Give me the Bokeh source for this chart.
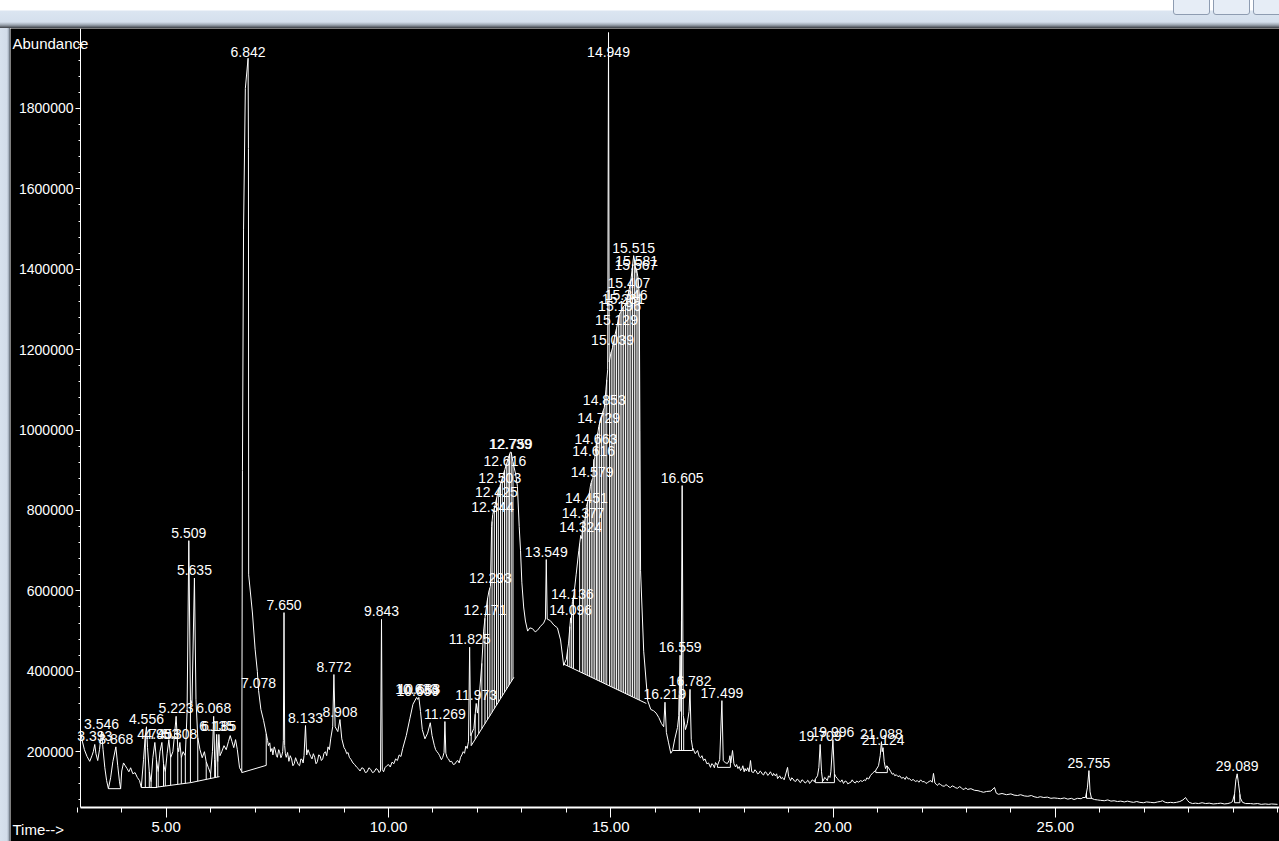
import numpy as np
from bokeh.plotting import figure
from bokeh.models import FixedTicker, NumeralTickFormatter, Label, Div, Range1d
from bokeh.layouts import column, row
from bokeh.embed import file_html
from bokeh.resources import INLINE
from bokeh.core.properties import value

FONT = "Liberation Sans"
FSIZE = "14px"

# ---------------- data ----------------
# total ion chromatogram: (retention time [min], abundance [thousands])
trace_points = [
    (3.073, 248), (3.11, 228), (3.16, 205), (3.22, 188), (3.28, 176), (3.33, 190), (3.36, 200), (3.393, 218),
    (3.42, 195), (3.46, 178), (3.50, 205), (3.546, 250), (3.58, 205), (3.62, 160), (3.66, 128), (3.70, 108),
    (3.75, 135), (3.80, 175), (3.868, 212), (3.91, 165), (3.95, 125), (3.975, 108), (4.00, 152), (4.04, 172),
    (4.08, 165), (4.12, 158), (4.16, 150), (4.20, 160), (4.25, 145), (4.30, 148), (4.35, 136), (4.40, 128),
    (4.44, 111), (4.49, 180), (4.53, 240), (4.556, 262), (4.58, 210), (4.62, 150), (4.66, 125), (4.70, 185),
    (4.745, 223), (4.78, 180), (4.82, 150), (4.86, 200), (4.903, 223), (4.94, 170), (4.98, 150), (5.02, 195),
    (5.06, 230), (5.10, 185), (5.15, 200), (5.19, 245), (5.223, 288), (5.26, 210), (5.28, 200), (5.308, 223),
    (5.34, 185), (5.38, 200), (5.43, 190), (5.47, 300), (5.509, 725), (5.545, 330), (5.58, 320), (5.635, 632),
    (5.67, 330), (5.71, 235), (5.76, 205), (5.81, 185), (5.86, 200), (5.90, 175), (5.95, 160), (6.00, 145),
    (6.04, 200), (6.068, 288), (6.09, 180), (6.11, 160), (6.135, 243), (6.16, 175), (6.185, 243), (6.21, 190),
    (6.25, 200), (6.30, 215), (6.35, 205), (6.40, 225), (6.44, 240), (6.48, 225), (6.52, 210), (6.56, 230),
    (6.60, 205), (6.65, 160), (6.70, 150), (6.715, 900), (6.74, 1500), (6.78, 1850), (6.842, 1925), (6.85, 1700),
    (6.855, 640), (6.94, 545), (7.00, 455), (7.05, 400), (7.078, 352), (7.13, 305), (7.19, 278), (7.25, 245),
    (7.28, 228), (7.30, 215), (7.33, 222), (7.35, 200), (7.38, 208), (7.40, 192), (7.43, 212), (7.45, 205),
    (7.48, 190), (7.50, 186), (7.53, 205), (7.55, 200), (7.58, 185), (7.60, 190), (7.62, 200), (7.635, 228),
    (7.650, 546), (7.665, 215), (7.68, 195), (7.70, 186), (7.73, 198), (7.76, 176), (7.79, 190), (7.82, 182),
    (7.85, 165), (7.88, 170), (7.91, 185), (7.94, 176), (7.97, 168), (8.00, 165), (8.03, 182), (8.06, 180),
    (8.08, 172), (8.10, 190), (8.133, 265), (8.16, 192), (8.19, 205), (8.22, 196), (8.25, 188), (8.28, 182),
    (8.31, 195), (8.34, 186), (8.37, 170), (8.40, 175), (8.43, 192), (8.46, 190), (8.49, 178), (8.52, 182),
    (8.55, 196), (8.58, 200), (8.61, 190), (8.64, 212), (8.67, 205), (8.70, 232), (8.745, 262), (8.772, 392),
    (8.80, 262), (8.86, 250), (8.908, 280), (8.95, 232), (9.00, 210), (9.03, 205), (9.06, 195), (9.09, 198),
    (9.12, 186), (9.16, 180), (9.20, 172), (9.24, 168), (9.28, 162), (9.32, 158), (9.36, 152), (9.40, 160),
    (9.44, 158), (9.48, 148), (9.52, 150), (9.56, 160), (9.60, 156), (9.64, 148), (9.68, 150), (9.72, 158),
    (9.76, 155), (9.79, 148), (9.82, 152), (9.843, 529), (9.86, 156), (9.89, 150), (9.92, 160), (9.96, 165),
    (10.00, 168), (10.04, 162), (10.08, 174), (10.12, 170), (10.16, 182), (10.20, 178), (10.24, 192), (10.28, 188),
    (10.32, 208), (10.40, 240), (10.48, 282), (10.55, 318), (10.633, 335), (10.659, 330), (10.683, 335), (10.72, 300),
    (10.76, 255), (10.82, 232), (10.88, 246), (10.94, 272), (10.98, 240), (11.03, 216), (11.06, 205), (11.09, 200),
    (11.12, 196), (11.15, 190), (11.19, 180), (11.22, 186), (11.25, 198), (11.269, 275), (11.29, 196), (11.32, 185),
    (11.35, 182), (11.38, 175), (11.42, 176), (11.46, 168), (11.50, 170), (11.53, 176), (11.56, 178), (11.59, 172),
    (11.62, 186), (11.65, 192), (11.68, 200), (11.71, 196), (11.74, 214), (11.77, 208), (11.80, 226), (11.825, 460),
    (11.85, 240), (11.92, 258), (11.973, 320), (12.00, 296), (12.05, 350), (12.10, 420), (12.14, 500), (12.171, 533),
    (12.22, 575), (12.26, 600), (12.293, 611), (12.32, 760), (12.344, 790), (12.39, 810), (12.425, 827), (12.46, 845),
    (12.503, 860), (12.56, 880), (12.616, 902), (12.68, 925), (12.739, 945), (12.759, 945), (12.80, 920), (12.86, 890),
    (12.90, 860), (12.94, 760), (12.97, 700), (13.00, 620), (13.04, 560), (13.08, 525), (13.13, 500), (13.18, 508),
    (13.24, 506), (13.30, 498), (13.35, 502), (13.42, 512), (13.49, 520), (13.53, 530), (13.549, 678), (13.57, 530),
    (13.64, 526), (13.72, 515), (13.80, 508), (13.87, 478), (13.94, 415), (14.00, 430), (14.05, 470), (14.096, 533),
    (14.11, 520), (14.136, 573), (14.17, 590), (14.22, 640), (14.28, 700), (14.324, 738), (14.35, 730), (14.377, 775),
    (14.41, 770), (14.451, 810), (14.50, 830), (14.54, 860), (14.579, 877), (14.60, 880), (14.616, 927), (14.64, 930),
    (14.663, 957), (14.70, 985), (14.729, 1009), (14.78, 1030), (14.82, 1045), (14.853, 1056), (14.89, 1100), (14.93, 1150),
    (14.949, 1989), (14.965, 1170), (15.00, 1190), (15.039, 1205), (15.08, 1230), (15.129, 1253), (15.16, 1270), (15.196, 1288),
    (15.24, 1298), (15.281, 1307), (15.31, 1310), (15.346, 1317), (15.38, 1330), (15.407, 1347), (15.45, 1370), (15.48, 1400),
    (15.515, 1434), (15.545, 1415), (15.567, 1392), (15.581, 1400), (15.61, 1380), (15.64, 1340), (15.655, 1000), (15.67, 650),
    (15.74, 450), (15.83, 327), (15.90, 305), (15.96, 302), (16.02, 296), (16.08, 285), (16.14, 270), (16.19, 262),
    (16.219, 323), (16.25, 248), (16.30, 222), (16.35, 196), (16.39, 203), (16.44, 232), (16.50, 260), (16.53, 290),
    (16.559, 440), (16.58, 300), (16.605, 862), (16.63, 290), (16.68, 255), (16.72, 270), (16.76, 300), (16.782, 355),
    (16.81, 230), (16.839, 210), (16.90, 195), (16.952, 203), (16.99, 188), (17.02, 185), (17.05, 190), (17.087, 178),
    (17.12, 182), (17.16, 170), (17.20, 172), (17.243, 161), (17.27, 170), (17.30, 168), (17.33, 160), (17.356, 173),
    (17.40, 166), (17.45, 180), (17.499, 327), (17.53, 178), (17.58, 172), (17.626, 171), (17.66, 178), (17.68, 190),
    (17.70, 172), (17.738, 203), (17.77, 170), (17.806, 162), (17.83, 168), (17.86, 158), (17.89, 163), (17.918, 153),
    (17.95, 158), (17.97, 165), (18.00, 150), (18.02, 158), (18.05, 152), (18.08, 160), (18.11, 150), (18.143, 178),
    (18.17, 150), (18.211, 148), (18.24, 155), (18.27, 152), (18.30, 145), (18.33, 146), (18.36, 152), (18.38, 150),
    (18.41, 144), (18.436, 142), (18.47, 150), (18.50, 148), (18.53, 141), (18.56, 144), (18.59, 150), (18.61, 146),
    (18.64, 140), (18.661, 146), (18.70, 140), (18.73, 145), (18.751, 133), (18.78, 137), (18.80, 140), (18.83, 133),
    (18.86, 136), (18.90, 130), (18.93, 142), (18.976, 161), (19.00, 138), (19.02, 134), (19.043, 128), (19.07, 135),
    (19.10, 132), (19.13, 127), (19.16, 126), (19.19, 132), (19.22, 130), (19.25, 124), (19.268, 123), (19.30, 130),
    (19.33, 128), (19.37, 122), (19.40, 124), (19.43, 129), (19.45, 127), (19.47, 121), (19.493, 123), (19.53, 130),
    (19.56, 128), (19.58, 125), (19.606, 133), (19.65, 140), (19.68, 160), (19.709, 218), (19.74, 150), (19.76, 132),
    (19.783, 128), (19.81, 136), (19.84, 133), (19.87, 128), (19.897, 140), (19.93, 136), (19.95, 150), (19.996, 230),
    (20.03, 145), (20.06, 138), (20.099, 133), (20.13, 128), (20.17, 125), (20.20, 130), (20.234, 121), (20.27, 127),
    (20.30, 126), (20.33, 120), (20.36, 122), (20.40, 124), (20.43, 130), (20.459, 125), (20.50, 122), (20.53, 127),
    (20.57, 124), (20.617, 128), (20.66, 126), (20.70, 130), (20.73, 128), (20.76, 135), (20.80, 132), (20.842, 141),
    (20.90, 148), (20.955, 153), (21.022, 165), (21.06, 190), (21.088, 225), (21.105, 200), (21.124, 210), (21.15, 175),
    (21.179, 158), (21.21, 165), (21.247, 160), (21.30, 150), (21.33, 144), (21.359, 146), (21.39, 140), (21.42, 143),
    (21.46, 138), (21.50, 140), (21.54, 134), (21.584, 136), (21.62, 131), (21.65, 138), (21.69, 132), (21.72, 133),
    (21.76, 128), (21.80, 131), (21.85, 126), (21.898, 128), (21.93, 124), (21.97, 130), (22.01, 125), (22.05, 126),
    (22.09, 121), (22.123, 123), (22.16, 126), (22.20, 128), (22.23, 124), (22.258, 146), (22.29, 122), (22.32, 119),
    (22.348, 116), (22.38, 121), (22.42, 118), (22.46, 115), (22.50, 114), (22.54, 118), (22.57, 116), (22.61, 112),
    (22.64, 111), (22.68, 115), (22.72, 113), (22.76, 110), (22.80, 109), (22.84, 113), (22.88, 111), (22.92, 106),
    (22.95, 107), (22.99, 110), (23.023, 106), (23.10, 108), (23.18, 104), (23.26, 103), (23.32, 101), (23.383, 99),
    (23.45, 101), (23.55, 102), (23.63, 111), (23.67, 97), (23.72, 94), (23.80, 96), (23.90, 93), (24.00, 95),
    (24.07, 92), (24.148, 91), (24.22, 93), (24.30, 90), (24.38, 89), (24.46, 91), (24.52, 88), (24.598, 86),
    (24.66, 88), (24.74, 86), (24.82, 87), (24.90, 84), (24.97, 85), (25.048, 84), (25.12, 83), (25.20, 85),
    (25.28, 82), (25.36, 84), (25.42, 81), (25.497, 84), (25.58, 83), (25.62, 86), (25.677, 86), (25.72, 110),
    (25.755, 153), (25.78, 100), (25.812, 84), (25.88, 81), (25.95, 80), (26.015, 79), (26.10, 78), (26.18, 80),
    (26.25, 77), (26.32, 78), (26.397, 76), (26.47, 77), (26.55, 75), (26.62, 77), (26.70, 75), (26.757, 74),
    (26.83, 76), (26.90, 74), (26.98, 73), (27.05, 75), (27.139, 74), (27.22, 73), (27.30, 75), (27.36, 76),
    (27.409, 78), (27.47, 74), (27.53, 73), (27.589, 74), (27.66, 73), (27.72, 74), (27.80, 76), (27.87, 80),
    (27.927, 86), (27.97, 79), (28.01, 74), (28.084, 71), (28.15, 72), (28.22, 71), (28.30, 73), (28.38, 71),
    (28.46, 72), (28.55, 70), (28.646, 71), (28.72, 72), (28.80, 70), (28.88, 71), (28.94, 73), (28.984, 76),
    (29.03, 95), (29.06, 130), (29.089, 145), (29.12, 120), (29.16, 85), (29.209, 74), (29.28, 71), (29.389, 71),
    (29.46, 70), (29.55, 71), (29.63, 69), (29.72, 70), (29.80, 69), (29.86, 70), (29.997, 69),
]

# labelled peaks: retention-time label and apex abundance (thousands)
peak_label = [
    "3.393", "3.546", "3.868", "4.556", "4.745", "4.903", "5.223", "5.308", "5.509", "5.635",
    "6.068", "6.135", "6.185", "6.842", "7.078", "7.650", "8.133", "8.772", "8.908", "9.843",
    "10.633", "10.659", "10.683", "11.269", "11.825", "11.973", "12.171", "12.293", "12.344", "12.425",
    "12.503", "12.616", "12.739", "12.759", "13.549", "14.096", "14.136", "14.324", "14.377", "14.451",
    "14.579", "14.616", "14.663", "14.729", "14.853", "14.949", "15.039", "15.129", "15.196", "15.281",
    "15.346", "15.407", "15.515", "15.567", "15.581", "16.219", "16.559", "16.605", "16.782", "17.499",
    "19.709", "19.996", "21.088", "21.124", "25.755", "29.089",
]
peak_apex_k = [
    218, 250, 212, 262, 223, 223, 288, 223, 725, 632,
    288, 243, 243, 1925, 352, 546, 265, 392, 280, 529,
    335, 330, 335, 275, 460, 320, 533, 611, 790, 827,
    860, 902, 945, 945, 678, 533, 573, 738, 775, 810,
    877, 927, 957, 1009, 1056, 1989, 1205, 1253, 1288, 1307,
    1317, 1347, 1434, 1392, 1400, 323, 440, 862, 355, 327,
    218, 230, 225, 210, 153, 145,
]

# integration baselines (start time, start abundance k, end time, end abundance k)
base_t0 = [3.70, 4.44, 4.80, 5.55, 6.70, 11.86, 13.94, 16.39, 17.40, 19.60, 20.96, 25.70, 29.03]
base_v0_k = [108, 111, 112, 123, 148, 215, 418, 203, 161, 123, 148, 84, 73]
base_t1 = [3.975, 4.80, 5.55, 6.20, 7.25, 12.82, 15.80, 16.84, 17.69, 20.03, 21.22, 25.82, 29.15]
base_v1_k = [108, 111, 123, 138, 166, 385, 320, 203, 161, 123, 148, 84, 73]

# peak-boundary drop lines (times)
drop_time = [
    3.70, 3.975, 4.44, 4.53, 4.62, 4.66, 4.78, 4.82, 4.94, 4.98, 5.10, 5.26, 5.34, 5.43, 5.545,
    5.71, 5.90, 6.00, 6.09, 6.11, 6.16, 6.70, 7.25,
    11.86, 11.95, 12.03, 12.10, 12.17, 12.23, 12.28, 12.33, 12.38, 12.43, 12.47, 12.52, 12.56,
    12.61, 12.65, 12.69, 12.72, 12.76, 12.80,
    13.94, 14.03, 14.08, 14.12, 14.16, 14.30, 14.36, 14.40, 14.44, 14.48, 14.52, 14.56, 14.60,
    14.64, 14.68, 14.71, 14.75, 14.79, 14.83, 14.87, 14.91, 14.97, 15.01, 15.05, 15.09, 15.13,
    15.17, 15.21, 15.25, 15.29, 15.33, 15.37, 15.41, 15.45, 15.49, 15.53, 15.57, 15.61, 15.64,
    16.39, 16.54, 16.59, 16.64, 16.84, 17.40, 17.69, 19.60, 19.76, 20.03, 20.96, 21.22,
    25.70, 25.82, 29.03, 29.15,
]

x_major_ticks = [5, 10, 15, 20, 25]
x_minor_ticks = list(range(3, 31))
y_major_ticks = [200000, 400000, 600000, 800000, 1000000, 1200000, 1400000, 1600000, 1800000]
y_minor_ticks = list(range(80000, 2000000, 40000))

# ---------------- derived geometry ----------------
tt = np.array([t for t, _ in trace_points])
tv = np.array([v for _, v in trace_points]) * 1000.0
bt0, bt1 = np.array(base_t0), np.array(base_t1)
bv0, bv1 = np.array(base_v0_k) * 1000.0, np.array(base_v1_k) * 1000.0
dt = np.array(drop_time)
seg = np.array([np.where((bt0 <= t + 1e-9) & (bt1 >= t - 1e-9))[0][0] for t in dt])
drop_bottom = bv0[seg] + (bv1[seg] - bv0[seg]) * (dt - bt0[seg]) / (bt1[seg] - bt0[seg])
drop_top = np.interp(dt, tt, tv)

peak_time = np.array([float(s) for s in peak_label])
label_y = np.minimum(np.array(peak_apex_k) * 1000.0, 1920000.0)

X0, X1 = 1.498, 30.041          # visible time window
Y0, Y1 = -23400, 1999000        # visible abundance window
AX_T, AX_V = 3.073, 61200       # where the axes cross

# ---------------- figure ----------------
p = figure(width=1269, height=813, x_range=Range1d(X0, X1), y_range=Range1d(Y0, Y1),
           output_backend="svg", toolbar_location=None,
           background_fill_color="black", border_fill_color="black", outline_line_color=None,
           min_border=0, min_border_left=0, min_border_right=0, min_border_top=0, min_border_bottom=0)
p.grid.visible = False

p.segment(x0=bt0, y0=bv0, x1=bt1, y1=bv1, line_color="white", line_width=1)
p.segment(x0=dt, y0=drop_bottom, x1=dt, y1=drop_top, line_color="white", line_width=1)
p.line(tt, tv, line_color="white", line_width=1)
p.text(x=peak_time, y=label_y, text=peak_label, text_color="white", text_font=value(FONT),
       text_font_size=FSIZE, text_align="center", text_baseline="bottom", y_offset=-3)

xa = p.xaxis[0]
xa.fixed_location = AX_V
xa.bounds = (AX_T, X1)
xa.ticker = FixedTicker(ticks=x_major_ticks, minor_ticks=x_minor_ticks)
xa.formatter = NumeralTickFormatter(format="0.00")
xa.axis_line_color = "white"
xa.axis_line_width = 2
xa.major_tick_line_color = "white"
xa.minor_tick_line_color = "white"
xa.major_tick_in = 0
xa.major_tick_out = 10
xa.minor_tick_in = 0
xa.minor_tick_out = 5
xa.major_label_standoff = 5
xa.major_label_text_color = "white"
xa.major_label_text_font = FONT
xa.major_label_text_font_size = "15px"

ya = p.yaxis[0]
ya.fixed_location = AX_T
ya.bounds = (AX_V, Y1)
ya.ticker = FixedTicker(ticks=y_major_ticks, minor_ticks=y_minor_ticks)
ya.formatter = NumeralTickFormatter(format="0")
ya.axis_line_color = "white"
ya.axis_line_width = 1
ya.major_tick_line_color = "white"
ya.minor_tick_line_color = "white"
ya.major_tick_in = 0
ya.major_tick_out = 5
ya.minor_tick_in = 0
ya.minor_tick_out = 2
ya.major_label_standoff = 2
ya.major_label_text_color = "white"
ya.major_label_text_font = FONT
ya.major_label_text_font_size = FSIZE

p.add_layout(Label(x=1.543, y=1982000, text="Abundance", text_baseline="top", text_align="left",
                   text_color="white", text_font=FONT, text_font_size="15px"))
p.add_layout(Label(x=1.543, y=27000, text="Time-->", text_baseline="top", text_align="left",
                   text_color="white", text_font=FONT, text_font_size="15px"))

buttons = "".join(
    f'<div style="position:absolute;left:{x}px;top:-3px;width:{w}px;height:18px;'
    'border:1px solid #8e9cb1;border-radius:3px;background:#e6edf6;box-sizing:border-box"></div>'
    for x, w in [(1173, 37), (1213, 37), (1253, 40)])
top_strip = Div(width=1279, height=28, margin=0, text=buttons,
                styles={"position": "relative", "overflow": "hidden",
                        "background": "linear-gradient(to bottom, #ffffff 0px, #ffffff 10px, #dbe5f1 11px, "
                                      "#d5e0ed 22px, #9aa3ae 25px, #3c4046 28px)"})
left_strip = Div(width=10, height=813, margin=0, text="",
                 styles={"background": "linear-gradient(to right, #d7e1ed 0px, #d2dce9 7px, #9ba6b4 9px, #50565e 10px)"})

layout = column(top_strip, row(left_strip, p, spacing=0), spacing=0)
open("out.html", "w").write(file_html(layout, INLINE))
